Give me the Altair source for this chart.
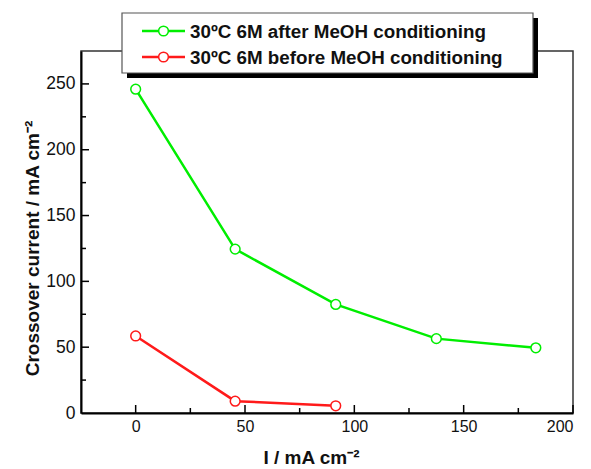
import altair as alt
import pandas as pd

# Data
series_names = ["30ºC 6M after MeOH conditioning", "30ºC 6M before MeOH conditioning"]
series_colors = ["#00ee00", "#ff1a1a"]
after_x = [0, 45.5, 91.5, 137.5, 183]
after_y = [246, 124.5, 82.5, 56.5, 49.5]
before_x = [0, 45.5, 91.5]
before_y = [58.5, 9, 5.5]

x_major = [0, 50, 100, 150, 200]
x_minor = [25, 75, 125, 175]
y_major = [50, 100, 150, 200, 250]
y_minor = [25, 75, 125, 175, 225]

df = pd.concat([
    pd.DataFrame({"I": after_x, "C": after_y, "series": series_names[0]}),
    pd.DataFrame({"I": before_x, "C": before_y, "series": series_names[1]}),
])

W, H = 492, 362
FONT = "Liberation Sans"

xscale = alt.Scale(domain=[-25, 200], nice=False, zero=False)
yscale = alt.Scale(domain=[0, 275], nice=False)

x_axis = alt.Axis(values=x_major, title="I / mA cm⁻²", titleX=230, titleY=44,
                  titleBaseline="middle", labelPadding=5, labelFontSize=16, grid=False, format="d")
y_axis = alt.Axis(values=[0] + y_major, title="Crossover current / mA cm⁻²", titleX=-49, titleY=197,
                  titleBaseline="middle", labelPadding=6, labelFontSize=17.5, grid=False, format="d")

def xe():
    return alt.X("I:Q", scale=xscale, axis=x_axis)

def ye():
    return alt.Y("C:Q", scale=yscale, axis=y_axis)

color = alt.Color("series:N", scale=alt.Scale(domain=series_names, range=series_colors), legend=None)

lines = alt.Chart(df).mark_line(strokeWidth=2.5).encode(
    x=xe(), y=ye(), color=color, order="I:Q"
)
points = alt.Chart(df).mark_point(filled=False, fill="white", fillOpacity=1, size=95, strokeWidth=1.5, opacity=1).encode(
    x=xe(), y=ye(), color=color
)

xmaj = alt.Chart(pd.DataFrame({"I": x_major})).mark_rule(color="black", strokeWidth=1.5).encode(
    x=xe(), y=alt.value(H), y2=alt.value(H - 8)
)
xmin = alt.Chart(pd.DataFrame({"I": x_minor})).mark_rule(color="black", strokeWidth=1.5).encode(
    x=xe(), y=alt.value(H), y2=alt.value(H - 5)
)
ymaj = alt.Chart(pd.DataFrame({"C": y_major})).mark_rule(color="black", strokeWidth=1.5).encode(
    y=ye(), x=alt.value(0), x2=alt.value(8)
)
ymin = alt.Chart(pd.DataFrame({"C": y_minor})).mark_rule(color="black", strokeWidth=1.5).encode(
    y=ye(), x=alt.value(0), x2=alt.value(5)
)

# Manual legend (decoration)
one = pd.DataFrame({"k": [0]})
LX0, LX1, LY0, LY1 = 41, 452, -38, 22
shadow = alt.Chart(one).mark_rect(color="black").encode(
    x=alt.value(LX0 + 5), x2=alt.value(LX1 + 5), y=alt.value(LY0 + 5), y2=alt.value(LY1 + 5)
)
box = alt.Chart(one).mark_rect(fill="white", stroke="#555", strokeWidth=1.2).encode(
    x=alt.value(LX0), x2=alt.value(LX1), y=alt.value(LY0), y2=alt.value(LY1)
)
legend_layers = []
row_y = [-20, 6]
for name, col, ry in zip(series_names, series_colors, row_y):
    d = pd.DataFrame({"name": [name]})
    legend_layers.append(alt.Chart(d).mark_rule(color=col, strokeWidth=2.5).encode(
        x=alt.value(61), x2=alt.value(104), y=alt.value(ry)))
    legend_layers.append(alt.Chart(d).mark_point(filled=False, fill="white", fillOpacity=1, color=col,
                                                 size=95, strokeWidth=1.5, opacity=1).encode(
        x=alt.value(82.5), y=alt.value(ry)))
    legend_layers.append(alt.Chart(d).mark_text(align="left", baseline="middle", font=FONT, fontSize=18.8,
                                                fontWeight="bold", color="#111").encode(
        x=alt.value(109), y=alt.value(ry + 1), text="name:N"))

chart = alt.layer(xmaj, xmin, ymaj, ymin, lines, points, shadow, box, *legend_layers).properties(
    width=W, height=H,
    autosize=alt.AutoSizeParams(type="none"),
    padding={"left": 73, "top": 43, "right": 2, "bottom": 54},
).configure_view(
    stroke="#333", strokeWidth=1.5
).configure_axis(
    domainColor="black", domainWidth=2, tickSize=0,
    labelFont=FONT, labelColor="#111",
    titleFont=FONT, titleFontSize=19, titleFontWeight="bold", titleColor="#111",
)

chart.save("out.html", embed_options={"renderer": "svg", "actions": False})
